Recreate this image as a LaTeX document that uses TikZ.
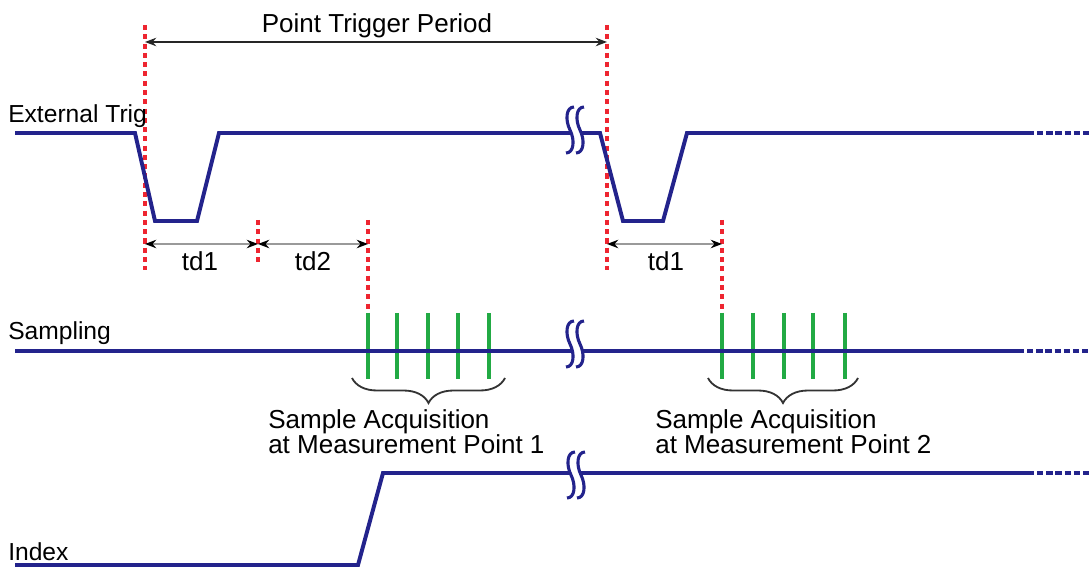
\documentclass[tikz,border=0pt]{standalone}
\usepackage{fontspec}
\setmainfont{Liberation Sans}
\usetikzlibrary{arrows.meta,decorations.pathreplacing}
\definecolor{snavy}{HTML}{23238C}
\definecolor{sred}{HTML}{EE2530}
\definecolor{sgreen}{HTML}{22AA44}
\definecolor{sgray}{HTML}{9A9A9A}
\tikzset{
  wave/.style={draw=snavy,line width=2.8pt},
  wavedots/.style={draw=snavy,line width=2.8pt,dash pattern=on 4.5pt off 2pt},
  redmk/.style={draw=sred,line width=2.2pt,dash pattern=on 3.6pt off 3pt},
  smp/.style={draw=sgreen,line width=2.6pt},
  dimarr/.style={{Stealth[length=8pt,width=6pt,color=black]}-{Stealth[length=8pt,width=6pt,color=black]},draw=sgray,line width=1.4pt},
  perarr/.style={{Stealth[length=8pt,width=6pt]}-{Stealth[length=8pt,width=6pt]},draw=black!85,line width=1.4pt},
  brc/.style={decorate,decoration={brace,amplitude=0.625cm},draw=black!80,line width=1.3pt},
  lbl/.style={font=\fontsize{17.5}{17.5}\selectfont,anchor=base west,inner sep=0pt},
  txt/.style={font=\fontsize{18.5}{17.7}\selectfont,inner sep=0pt},
  brk/.pic={
    \fill[white] (-1,-23) .. controls (-9,-23) and (-10,-10) .. (-5,0) .. controls (0,10) and (-1,23) .. (-9,23)
      -- (1,23) .. controls (9,23) and (10,10) .. (5,0) .. controls (0,-10) and (1,-23) .. (9,-23) -- cycle;
    \draw[snavy,line width=2.2pt] (-1,-23) .. controls (-9,-23) and (-10,-10) .. (-5,0) .. controls (0,10) and (-1,23) .. (-9,23);
    \draw[snavy,line width=2.2pt] (9,-23) .. controls (1,-23) and (0,-10) .. (5,0) .. controls (10,10) and (9,23) .. (1,23);
  },
}
\begin{document}
\begin{tikzpicture}[x=0.025cm,y=-0.025cm]
  \useasboundingbox (0,0) rectangle (1091,569);
  % trigger and delay marks
  \draw[redmk] (145,25) -- (145,270);
  \draw[redmk] (607,25) -- (607,270);
  \draw[redmk] (258,220) -- (258,264);
  \draw[redmk] (368,220) -- (368,313);
  \draw[redmk] (722,220) -- (722,313);
  % period
  \coordinate (pa) at (145,42); \coordinate (pb) at (607,42);
  \draw[perarr] (pa) -- (pb);
  \node[txt,anchor=base] (ptp) at (377,33) {Point Trigger Period};
  % delays
  \coordinate (da) at (145,244); \coordinate (db) at (258,244);
  \coordinate (dc) at (368,244); \coordinate (dd) at (607,244);
  \coordinate (de) at (722,244);
  \draw[dimarr] (da) -- (db);
  \draw[dimarr] (db) -- (dc);
  \draw[dimarr] (dd) -- (de);
  \node[txt,anchor=base] (tda) at (200,271) {td1};
  \node[txt,anchor=base] (tdb) at (313,271) {td2};
  \node[txt,anchor=base] (tdc) at (666,271) {td1};
  % External Trig
  \node[lbl] (lext) at (8,123) {External Trig};
  \draw[wave] (15,133) -- (135,133) -- (155,221) -- (197,221) -- (219,133) -- (600,133)
    -- (623,221) -- (663,221) -- (687,133) -- (1028,133);
  \draw[wavedots] (1028,133) -- (1091,133);
  \pic at (575,130) {brk};
  % Sampling
  \node[lbl] (lsmp) at (8,340) {Sampling};
  \foreach \x in {368,397,428,458,489,722,753,784,813,845}
    \draw[smp] (\x,313) -- (\x,379);
  \draw[wave] (15,351) -- (1018,351);
  \draw[wavedots] (1018,351) -- (1091,351);
  \pic at (575,344) {brk};
  \draw[brc] (505,378) -- (352,378);
  \draw[brc] (858,378) -- (708,378);
  \node[txt,anchor=north west,align=left] (acq1) at (268,409) {Sample Acquisition\\at Measurement Point 1};
  \node[txt,anchor=north west,align=left] (acq2) at (655,409) {Sample Acquisition\\at Measurement Point 2};
  % Index
  \node[lbl] (lidx) at (8,560) {Index};
  \draw[wave] (15,565) -- (358,565) -- (383,473) -- (1028,473);
  \draw[wavedots] (1028,473) -- (1091,473);
  \pic at (576,475) {brk};
\end{tikzpicture}
\end{document}
